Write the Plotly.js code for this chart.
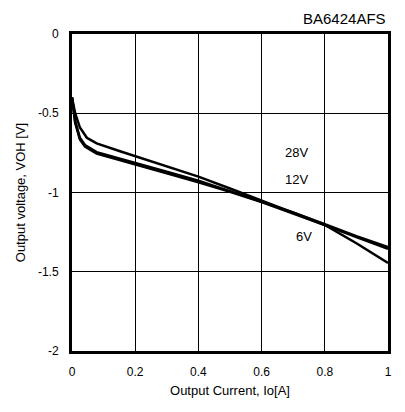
<!DOCTYPE html>
<html><head><meta charset="utf-8">
<script src="https://cdn.plot.ly/plotly-3.0.1.min.js"></script>
<style>html,body{margin:0;padding:0;background:#fff}</style>
</head><body><div id="chart" style="width:405px;height:412px"></div>
<script>
var xA = [0, 0.01, 0.025, 0.047, 0.06, 0.078, 0.152, 0.311, 0.4, 0.5, 0.6, 0.7, 0.8, 0.9, 1.0];
var vA = [-0.40, -0.50, -0.59, -0.655, -0.67, -0.69, -0.74, -0.84, -0.90, -0.975, -1.05, -1.13, -1.205, -1.32, -1.445];
var xB = [0, 0.01, 0.025, 0.041, 0.078, 0.152, 0.311, 0.4, 0.5, 0.6, 0.7, 0.8, 0.9, 1.0];
var vB = [-0.40, -0.55, -0.655, -0.70, -0.745, -0.785, -0.875, -0.925, -0.99, -1.055, -1.125, -1.20, -1.275, -1.344];
var vC = [-0.40, -0.56, -0.665, -0.71, -0.755, -0.795, -0.885, -0.935, -0.995, -1.06, -1.13, -1.205, -1.282, -1.356];
var labels = ["28V", "12V", "6V"];
var labelX = [0.711, 0.711, 0.733];
var labelY = [-0.75, -0.92, -1.28];

var FF = 'Liberation Sans, Arial, sans-serif';
var line = {color: '#000', width: 2.5};
var traces = [
  {x: xA, y: vA, mode: 'lines', line: line, name: '28V'},
  {x: xB, y: vB, mode: 'lines', line: line, name: '12V'},
  {x: xB, y: vC, mode: 'lines', line: line, name: '6V'}
];
var ann = labels.map(function(t, i){
  return {x: labelX[i], y: labelY[i], text: t, showarrow: false, xref: 'x', yref: 'y',
          font: {family: FF, size: 13, color: '#000'}};
});
ann.push({x: 1, y: 1, xref: 'paper', yref: 'paper', xanchor: 'right', yanchor: 'bottom', yshift: 5,
  text: 'BA6424AFS', showarrow: false, font: {family: FF, size: 15, color: '#000'}});
var axisFont = {family: FF, size: 12, color: '#000'};
var layout = {
  width: 405, height: 412,
  margin: {l: 72, r: 17, t: 34, b: 61},
  paper_bgcolor: '#fff', plot_bgcolor: '#fff',
  showlegend: false,
  xaxis: {range: [0, 1], tickvals: [0, 0.2, 0.4, 0.6, 0.8, 1], ticktext: ['0','0.2','0.4','0.6','0.8','1'],
    showgrid: true, gridcolor: '#000', gridwidth: 1, zeroline: false,
    showline: true, linecolor: '#000', linewidth: 3, mirror: true,
    ticks: 'outside', ticklen: 8, tickcolor: 'rgba(0,0,0,0)',
    tickfont: axisFont,
    title: {text: 'Output Current, Io[A]', font: {family: FF, size: 13, color: '#000'}, standoff: 8}},
  yaxis: {range: [-2, 0], tickvals: [0, -0.5, -1, -1.5, -2], ticktext: ['0','-0.5','-1','-1.5','-2'],
    showgrid: true, gridcolor: '#000', gridwidth: 1, zeroline: false,
    showline: true, linecolor: '#000', linewidth: 3, mirror: true,
    ticks: 'outside', ticklen: 8, tickcolor: 'rgba(0,0,0,0)',
    tickfont: axisFont,
    title: {text: 'Output voltage, VOH [V]', font: {family: FF, size: 13, color: '#000'}, standoff: 10}},
  annotations: ann
};
Plotly.newPlot('chart', traces, layout, {staticPlot: true, displayModeBar: false});
</script></body></html>
